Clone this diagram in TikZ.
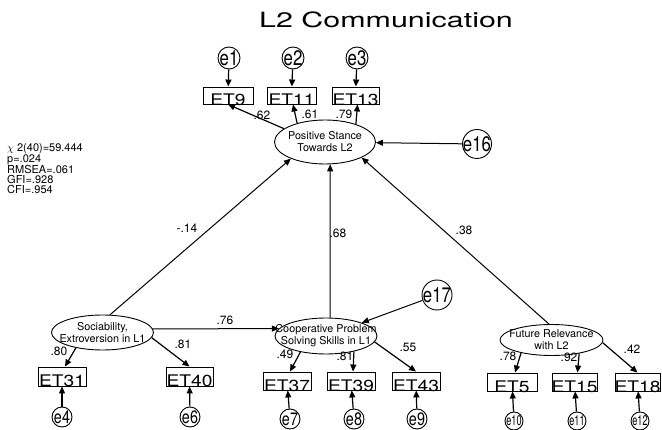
\documentclass[tikz,border=0pt]{standalone}
\usepackage{fontspec}
\setmainfont{TeX Gyre Heros}
\newfontfamily\titlefont[FakeStretch=1.45]{TeX Gyre Heros}
\newfontfamily\boxfont[FakeStretch=1.2]{TeX Gyre Heros}
\newfontfamily\errfont[FakeStretch=0.8]{TeX Gyre Heros}
\newfontfamily\errsmallfont[FakeStretch=0.65]{TeX Gyre Heros}
\usetikzlibrary{shapes.geometric,arrows.meta}

\tikzset{
  obsbox/.style={draw, rectangle, line width=0.9pt, inner sep=0pt, minimum height=18pt},
  boxtxt/.style={font=\boxfont\fontsize{16}{16}\selectfont, yshift=-4.5pt, inner sep=0pt},
  latent/.style={draw, ellipse, line width=0.9pt, inner sep=0pt, minimum width=102pt},
  lattxt/.style={align=center, font=\fontsize{10.8}{12}\selectfont, inner sep=0pt},
  errc/.style={draw, circle, line width=0.9pt, inner sep=0pt},
  errtxt/.style={font=\errfont\fontsize{21}{21}\selectfont, inner sep=0pt},
  errlow/.style={font=\errfont\fontsize{18}{18}\selectfont, inner sep=0pt},
  errsmall/.style={font=\errsmallfont\fontsize{14}{14}\selectfont, inner sep=0pt},
  coef/.style={font=\fontsize{12}{12}\selectfont, inner sep=0pt},
  load/.style={-{Triangle[length=7pt,width=6pt]}, line width=1.2pt},
  path/.style={-{Triangle[length=7pt,width=6pt]}, line width=1pt},
}

\begin{document}
\begin{tikzpicture}[x=1pt,y=-1pt]
\useasboundingbox (0,0) rectangle (662,430);

% title
\node[font=\titlefont\fontsize{21}{21}\selectfont, inner sep=0pt] (title) at (386,20) {L2 Communication};

% fit statistics
\node[anchor=north west, align=left, inner sep=0pt, font=\fontsize{11}{10}\selectfont] (fit) at (7,143)
  {$\chi$ 2(40)=59.444\\p=.024\\RMSEA=.061\\GFI=.928\\CFI=.954};

% latent variables
\node[latent, minimum height=44pt, minimum width=101pt, label={[lattxt]center:Positive Stance\\Towards L2}] (Pos) at (325,142) {};
\node[latent, minimum height=35pt, label={[lattxt]center:Sociability,\\Extroversion in L1}] (Soc) at (102.5,332.5) {};
\node[latent, minimum height=36pt, label={[lattxt]center:Cooperative Problem\\Solving Skills in L1}] (Coop) at (326,336) {};
\node[latent, minimum height=31pt, minimum width=103pt, label={[lattxt]center:Future Relevance\\with L2}] (Fut) at (551.5,340) {};

% observed indicators
\node[obsbox, minimum width=50pt, minimum height=17pt, label={[boxtxt]center:ET9}] (ET9) at (228,95.5) {};
\node[obsbox, minimum width=49pt, minimum height=17pt, label={[boxtxt]center:ET11}] (ET11) at (291.5,95.5) {};
\node[obsbox, minimum width=47pt, minimum height=17pt, label={[boxtxt]center:ET13}] (ET13) at (355.5,95.5) {};
\node[obsbox, minimum width=48pt, minimum height=19pt, label={[boxtxt]center:ET31}] (ET31) at (62,376.5) {};
\node[obsbox, minimum width=47pt, minimum height=19pt, label={[boxtxt]center:ET40}] (ET40) at (189.5,376.5) {};
\node[obsbox, minimum width=48pt, label={[boxtxt]center:ET37}] (ET37) at (287,381) {};
\node[obsbox, minimum width=48pt, label={[boxtxt]center:ET39}] (ET39) at (351,381) {};
\node[obsbox, minimum width=48pt, label={[boxtxt]center:ET43}] (ET43) at (416,381) {};
\node[obsbox, minimum width=50pt, label={[boxtxt]center:ET5}] (ET5) at (512,382) {};
\node[obsbox, minimum width=45pt, label={[boxtxt]center:ET15}] (ET15) at (574.5,382) {};
\node[obsbox, minimum width=45pt, label={[boxtxt]center:ET18}] (ET18) at (637.5,382) {};

% error terms
\node[errc, minimum size=22pt, label={[errtxt]center:e1}] (e1) at (229,58) {};
\node[errc, minimum size=22pt, label={[errtxt]center:e2}] (e2) at (293,58) {};
\node[errc, minimum size=22pt, label={[errtxt]center:e3}] (e3) at (357,58) {};
\node[errc, minimum size=29pt, label={[errtxt]center:e16}] (e16) at (477,144) {};
\node[errc, minimum size=30pt, label={[errtxt]center:e17}] (e17) at (437,295) {};
\node[errc, minimum size=20pt, label={[errlow]center:e4}] (e4) at (62,417) {};
\node[errc, minimum size=20pt, label={[errlow]center:e6}] (e6) at (190,417) {};
\node[errc, minimum size=20pt, label={[errlow]center:e7}] (e7) at (290,419) {};
\node[errc, minimum size=20pt, label={[errlow]center:e8}] (e8) at (354,419) {};
\node[errc, minimum size=20pt, label={[errlow]center:e9}] (e9) at (417,419) {};
\node[errc, minimum size=18pt, label={[errsmall]center:e10}] (e10) at (514,421) {};
\node[errc, minimum size=18pt, label={[errsmall]center:e11}] (e11) at (577,421) {};
\node[errc, minimum size=18pt, label={[errsmall]center:e12}] (e12) at (640,421) {};

% structural paths
\draw[path] (Soc.67) -- (Pos.206);
\draw[path] (Coop.77) -- (Pos.283);
\draw[path] (Fut.99) -- (Pos.337);
\draw[path] (Soc.4) -- (Coop.171);
\draw[path] (e16) -- (Pos);
\draw[path] (e17) -- (Coop);

% loadings
\draw[load] (Pos.162) -- (ET9.south);
\draw[load] (Pos.146) -- ([xshift=1.5pt]ET11.south);
\draw[load] (Pos.30) -- ([xshift=2pt]ET13.south);
\draw[load] (Soc.210) -- ([xshift=3pt]ET31.north);
\draw[load] (Soc.354) -- (ET40.north);
\draw[load] (Coop.212) -- ([xshift=3pt]ET37.north);
\draw[load] (Coop.331) -- ([xshift=2pt]ET39.north);
\draw[load] (Coop.353) -- (ET43.north);
\draw[load] (Fut.203) -- ([xshift=3pt]ET5.north);
\draw[load] (Fut.334) -- ([xshift=3pt]ET15.north);
\draw[load] (Fut.357) -- (ET18.north);

% error paths
\draw[load] (e1) -- (ET9);
\draw[load] (e2) -- (ET11);
\draw[load] (e3) -- (ET13);
\draw[load] (e4) -- (ET31);
\draw[load] (e6) -- (ET40);
\draw[load] (e7) -- (ET37);
\draw[load] (e8) -- (ET39);
\draw[load] (e9) -- (ET43);
\draw[load] (e10) -- (ET5);
\draw[load] (e11) -- (ET15);
\draw[load] (e12) -- (ET18);

% coefficients
\node[coef] (c14) at (187,228) {-.14};
\node[coef] (c68) at (338,233) {.68};
\node[coef] (c38) at (464,230) {.38};
\node[coef] (c76) at (225,320) {.76};
\node[coef] (c62) at (262,115) {.62};
\node[coef] (c61) at (310,114) {.61};
\node[coef] (c79) at (344,114) {.79};
\node[coef] (c80) at (59,351) {.80};
\node[coef] (c81a) at (183,344) {.81};
\node[coef] (c49) at (285,354) {.49};
\node[coef] (c81b) at (345,356) {.81};
\node[coef] (c55) at (408,347) {.55};
\node[coef] (c78) at (508,356) {.78};
\node[coef] (c92) at (569,357) {.92};
\node[coef] (c42) at (632,349) {.42};
\end{tikzpicture}
\end{document}
